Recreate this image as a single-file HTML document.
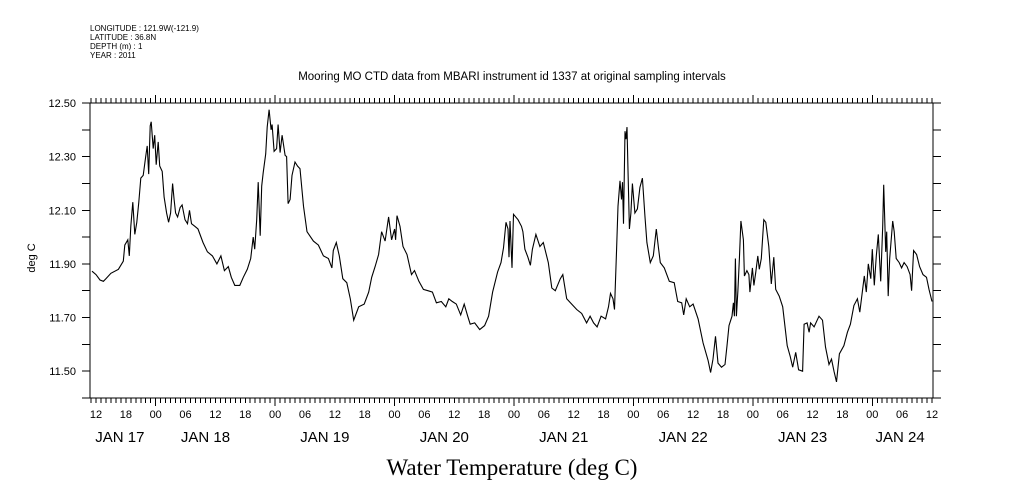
<!DOCTYPE html>
<html><head><meta charset="utf-8"><style>
html,body{margin:0;padding:0;background:#fff;}
svg{display:block;}
text{font-family:"Liberation Sans",sans-serif;fill:#000;}
</style></head><body>
<svg id="chart" width="1009" height="504" viewBox="0 0 1009 504" xmlns="http://www.w3.org/2000/svg">
<g font-size="8">
<text x="90" y="31">LONGITUDE : 121.9W(-121.9)</text>
<text x="90" y="40">LATITUDE : 36.8N</text>
<text x="90" y="49">DEPTH (m) : 1</text>
<text x="90" y="58">YEAR : 2011</text>
</g>
<text x="512" y="80" font-size="11.5" text-anchor="middle">Mooring MO CTD data from MBARI instrument id 1337 at original sampling intervals</text>
<text transform="translate(35,258) rotate(-90)" font-size="11" text-anchor="middle">deg C</text>
<text x="512" y="475" font-size="23" text-anchor="middle" style="font-family:'Liberation Serif',serif">Water Temperature (deg C)</text>
<g id="axes"></g>
<g id="series"></g>
</svg>
<script>
const hours=[11.2,12,12.8,13.5,14,15,16.5,17.5,17.8,18.4,18.7,19,19.4,19.8,20.2,20.6,21,21.5,22,22.3,22.6,22.9,23.1,23.5,23.8,24.1,24.5,24.8,25.3,25.7,26.2,26.6,27,27.4,27.7,28,28.4,28.9,29.3,29.9,30.4,30.8,31.2,31.9,32.5,33.5,34.4,35.4,36.3,37.1,37.8,38.6,39.2,39.9,40.9,41.6,42.4,43.1,43.6,43.9,44.3,44.6,45,45.3,45.6,46.1,46.4,46.8,47.2,47.4,47.8,48.3,48.6,49,49.4,50,50.3,50.6,51,51.4,52,52.5,53,53.7,54.4,55.7,56.7,57.7,58.7,59.4,59.7,60.3,60.9,61.6,62.4,63.1,63.8,64.8,65.9,66.8,67.4,68.1,68.8,69.4,70.1,70.8,71.4,72,72.2,72.5,73.1,73.7,74.5,75.4,76,76.9,77.8,78.7,79.6,80.4,81.4,82.3,82.9,83.6,84.4,85.3,86,86.7,87.2,88.1,89.1,90.1,90.9,91.7,92.7,93.4,93.9,94.4,94.8,95,95.2,95.6,95.9,96.8,97.5,97.8,98.2,98.8,99.3,99.7,100.4,101.2,101.9,102.9,103.6,104.3,105.3,105.8,106.6,107.6,108.6,109.6,110.6,111.3,112,112.7,113.5,114.4,115,115.4,115.9,116.2,116.6,116.9,117.3,117.6,117.8,118,118.3,118.5,118.7,118.9,119.2,119.5,119.8,120.3,120.8,121.3,121.8,122.3,122.7,123.4,124,124.6,125,125.4,126.2,127.2,128.2,128.9,129.7,130.1,130.6,131.3,132,133,134,135,135.5,136,136.5,137,137.7,138.4,138.8,139.2,139.8,140.1,140.3,140.5,140.7,141,141.3,141.6,142.1,142.3,142.8,143.2,143.4,143.9,144.2,144.6,145,145.3,145.7,146.2,146.6,147.2,147.7,148.2,148.6,149.3,150,150.9,151.5,152,152.6,153.2,154,154.3,154.9,155.3,155.6,156.3,157.3,158,158.6,159.3,159.8,160.3,160.8,161.4,162.3,163,163.6,164.3,165,165.5,165.9,166.4,166.8,167.2,167.7,168,168.4,168.8,169.2,169.7,170.1,170.3,170.7,170.9,171.2,171.5,172.1,172.4,172.8,173.4,173.9,174.4,175,175.6,175.9,176.3,176.9,177.5,178.2,178.9,179.4,180];
const temps=[11.873,11.86,11.84,11.835,11.845,11.865,11.88,11.91,11.97,11.99,11.93,12.04,12.13,12.01,12.055,12.13,12.22,12.23,12.30,12.34,12.235,12.415,12.43,12.33,12.38,12.27,12.355,12.265,12.245,12.15,12.09,12.055,12.09,12.20,12.14,12.09,12.075,12.11,12.12,12.065,12.05,12.10,12.05,12.04,12.03,11.98,11.945,11.93,11.90,11.93,11.875,11.89,11.85,11.82,11.82,11.85,11.88,11.92,12.00,11.955,12.065,12.205,12.005,12.19,12.24,12.31,12.41,12.475,12.40,12.42,12.32,12.33,12.42,12.315,12.38,12.305,12.30,12.125,12.14,12.23,12.28,12.265,12.255,12.115,12.02,11.985,11.97,11.93,11.92,11.885,11.95,11.98,11.93,11.845,11.83,11.77,11.69,11.74,11.75,11.795,11.85,11.89,11.935,12.02,11.985,12.075,11.99,12.03,11.99,12.08,12.04,11.965,11.935,11.86,11.875,11.835,11.805,11.80,11.795,11.755,11.76,11.74,11.77,11.76,11.75,11.71,11.75,11.705,11.675,11.68,11.655,11.67,11.705,11.795,11.87,11.905,11.96,12.055,12.03,11.925,12.06,11.885,12.085,12.065,12.04,12.02,11.955,11.925,11.895,11.955,12.01,11.965,11.98,11.905,11.81,11.80,11.845,11.86,11.77,11.75,11.73,11.715,11.68,11.705,11.68,11.665,11.705,11.695,11.74,11.79,11.77,11.73,11.945,12.115,12.21,12.14,12.205,12.05,12.395,12.365,12.41,12.265,12.03,12.09,12.20,12.09,12.105,12.185,12.22,12.08,11.98,11.905,11.93,12.03,11.965,11.905,11.885,11.835,11.83,11.76,11.755,11.71,11.77,11.74,11.75,11.695,11.605,11.54,11.495,11.545,11.63,11.53,11.515,11.525,11.595,11.67,11.705,11.755,11.705,11.92,11.705,11.80,11.92,12.06,11.99,11.855,11.875,11.86,11.795,11.885,11.82,11.87,11.93,11.88,11.92,12.065,12.055,11.965,11.825,11.925,11.805,11.78,11.74,11.595,11.555,11.515,11.57,11.505,11.50,11.675,11.68,11.645,11.68,11.665,11.705,11.69,11.59,11.525,11.545,11.50,11.46,11.565,11.595,11.645,11.675,11.745,11.77,11.72,11.78,11.855,11.795,11.90,11.845,11.955,11.82,11.93,12.01,11.835,12.04,12.195,11.945,12.02,11.78,11.92,12.06,12.02,11.92,11.905,11.885,11.905,11.89,11.86,11.80,11.95,11.935,11.89,11.86,11.85,11.805,11.76];
const yTicks=[11.50,11.70,11.90,12.10,12.30,12.50];
const hourLabels=["12","18","00","06","12","18","00","06","12","18","00","06","12","18","00","06","12","18","00","06","12","18","00","06","12","18","00","06","12"];
const dateLabels=["JAN 17","JAN 18","JAN 19","JAN 20","JAN 21","JAN 22","JAN 23","JAN 24"];
const dateHours=[16.8,34,58,82,106,130,154,173.6];

const L=90,R=933,T=103,B=398;
const hMin=10.8,hMax=180.2,vMin=11.4,vMax=12.5;
function xs(h){return L+(h-hMin)/(hMax-hMin)*(R-L);}
function ys(v){return B-(v-vMin)/(vMax-vMin)*(B-T);}
const NS="http://www.w3.org/2000/svg";
const axes=document.getElementById('axes');
function mk(tag,attrs,parent){const e=document.createElementNS(NS,tag);for(const k in attrs)e.setAttribute(k,attrs[k]);parent.appendChild(e);return e;}
let d=`M${L},${T}H${R}V${B}H${L}Z`;
for(let h=11;h<=180;h++){
  const x=xs(h).toFixed(1),len=(h%24===0)?8:5;
  d+=`M${x},${T}v${-len}M${x},${B}v${len}`;
}
for(let v=11.4;v<=12.501;v+=0.1){
  const y=ys(v).toFixed(1);
  d+=`M${L},${y}h-8M${R},${y}h8`;
}
const frame=mk('path',{d:d,stroke:'#000','stroke-width':1,fill:'none','shape-rendering':'crispEdges'},axes);


yTicks.forEach(v=>{
  const t=mk('text',{x:76,y:ys(v)+4,'font-size':11,'text-anchor':'end'},axes);
  t.textContent=v.toFixed(2);
  
  
});
hourLabels.forEach((s,i)=>{
  const t=mk('text',{x:xs(12+6*i),y:418,'font-size':11,'text-anchor':'middle'},axes);
  t.textContent=s;
  
  
});
dateLabels.forEach((s,i)=>{
  const t=mk('text',{x:xs(dateHours[i]),y:442,'font-size':15,'text-anchor':'middle'},axes);
  t.textContent=s;
  
  
});
const pts=hours.map((h,i)=>xs(h).toFixed(1)+','+ys(temps[i]).toFixed(1)).join(' ');
const line=mk('polyline',{points:pts,fill:'none',stroke:'#000','stroke-width':1.1},document.getElementById('series'));


</script>
</body></html>
